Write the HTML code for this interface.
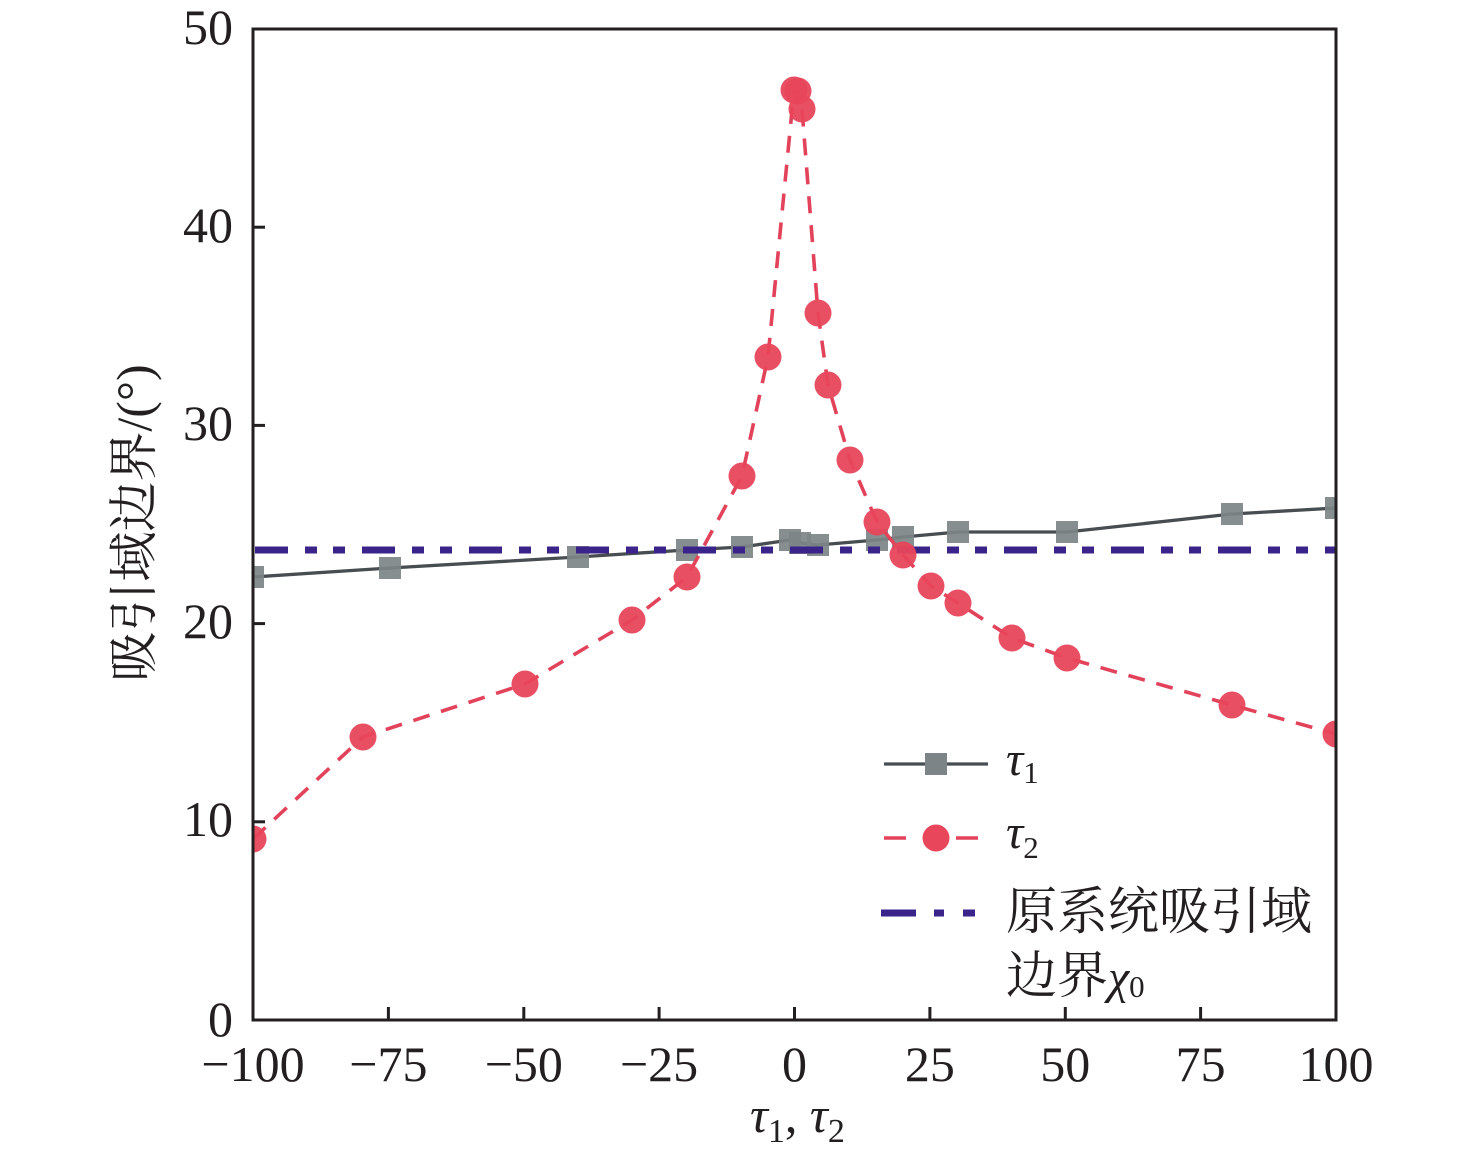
<!DOCTYPE html>
<html>
<head>
<meta charset="utf-8">
<style>
  html, body { margin:0; padding:0; background:#ffffff; }
  svg { display:block; }
  .num { font-family:"Liberation Serif", serif; font-size:50px; fill:#231f20; }
  .cjk { font-family:"Liberation Serif", "Noto Serif CJK SC", serif; fill:#231f20; }
  .it { font-family:"Liberation Serif", serif; font-style:italic; fill:#231f20; }
</style>
</head>
<body>
<svg width="1476" height="1158" viewBox="0 0 1476 1158" xmlns="http://www.w3.org/2000/svg">
  <defs>
    <clipPath id="plot">
      <rect x="253" y="29" width="1083" height="991"/>
    </clipPath>
  </defs>
  <rect x="0" y="0" width="1476" height="1158" fill="#ffffff"/>

  <g clip-path="url(#plot)">
    <!-- tau1 grey series -->
    <polyline fill="none" stroke="#474d50" stroke-width="3.3"
      points="253,577 390,568 578,557 687,550 742,547 790,540 800,543 818,545 877,540 903,537 958,532 1067,532 1232,514 1336,508"/>
    <g fill="#7d8487" fill-opacity="0.92">
      <rect x="242" y="566" width="22" height="22"/>
      <rect x="379" y="557" width="22" height="22"/>
      <rect x="567" y="546" width="22" height="22"/>
      <rect x="676" y="539" width="22" height="22"/>
      <rect x="731" y="536" width="22" height="22"/>
      <rect x="779" y="529" width="22" height="22"/>
      <rect x="789" y="532" width="22" height="22"/>
      <rect x="807" y="534" width="22" height="22"/>
      <rect x="866" y="529" width="22" height="22"/>
      <rect x="892" y="526" width="22" height="22"/>
      <rect x="947" y="521" width="22" height="22"/>
      <rect x="1056" y="521" width="22" height="22"/>
      <rect x="1221" y="503" width="22" height="22"/>
      <rect x="1325" y="497" width="22" height="22"/>
    </g>

    <!-- original boundary chi0 -->
    <line x1="253" y1="550" x2="1336" y2="550" stroke="#3a2389" stroke-width="7"
      stroke-dasharray="33 17 12 16 12 17" stroke-dashoffset="-2"/>

    <!-- tau2 red series -->
    <polyline fill="none" stroke="#e3435a" stroke-width="3.6" stroke-dasharray="17 12"
      points="253,839 363,737 525,684 632,620 687,577 742,476 768,357 794,90 798,90 802,109 818,313 828,385 850,460 877,522 903,555 931,586 958,603 1012,638 1067,658 1232,705 1336,734"/>
    <g fill="#e8465b" fill-opacity="0.95">
      <circle cx="253" cy="839" r="13.5"/>
      <circle cx="363" cy="737" r="13.5"/>
      <circle cx="525" cy="684" r="13.5"/>
      <circle cx="632" cy="620" r="13.5"/>
      <circle cx="687" cy="577" r="13.5"/>
      <circle cx="742" cy="476" r="13.5"/>
      <circle cx="768" cy="357" r="13.5"/>
      <circle cx="794" cy="90" r="13.5"/>
      <circle cx="798" cy="91" r="13.5"/>
      <circle cx="802" cy="109" r="13.5"/>
      <circle cx="818" cy="313" r="13.5"/>
      <circle cx="828" cy="385" r="13.5"/>
      <circle cx="850" cy="460" r="13.5"/>
      <circle cx="877" cy="522" r="13.5"/>
      <circle cx="903" cy="555" r="13.5"/>
      <circle cx="931" cy="586" r="13.5"/>
      <circle cx="958" cy="603" r="13.5"/>
      <circle cx="1012" cy="638" r="13.5"/>
      <circle cx="1067" cy="658" r="13.5"/>
      <circle cx="1232" cy="705" r="13.5"/>
      <circle cx="1336" cy="734" r="13.5"/>
    </g>
  </g>

  <!-- axes box -->
  <rect x="253" y="29" width="1083" height="991" fill="none" stroke="#231f20" stroke-width="3"/>

  <!-- x ticks (inward) -->
  <g stroke="#231f20" stroke-width="3">
    <line x1="388.4" y1="1020" x2="388.4" y2="1007"/>
    <line x1="523.8" y1="1020" x2="523.8" y2="1007"/>
    <line x1="659.1" y1="1020" x2="659.1" y2="1007"/>
    <line x1="794.5" y1="1020" x2="794.5" y2="1007"/>
    <line x1="929.9" y1="1020" x2="929.9" y2="1007"/>
    <line x1="1065.3" y1="1020" x2="1065.3" y2="1007"/>
    <line x1="1200.6" y1="1020" x2="1200.6" y2="1007"/>
    <!-- y ticks -->
    <line x1="253" y1="821.8" x2="265" y2="821.8"/>
    <line x1="253" y1="623.6" x2="265" y2="623.6"/>
    <line x1="253" y1="425.4" x2="265" y2="425.4"/>
    <line x1="253" y1="227.2" x2="265" y2="227.2"/>
  </g>

  <!-- y tick labels -->
  <g class="num" text-anchor="end">
    <text x="233" y="1036">0</text>
    <text x="233" y="836">10</text>
    <text x="233" y="638">20</text>
    <text x="233" y="440">30</text>
    <text x="233" y="242">40</text>
    <text x="233" y="44">50</text>
  </g>

  <!-- x tick labels -->
  <g class="num" text-anchor="middle">
    <text x="253" y="1081">−100</text>
    <text x="388.4" y="1081">−75</text>
    <text x="523.8" y="1081">−50</text>
    <text x="659.1" y="1081">−25</text>
    <text x="794.5" y="1081">0</text>
    <text x="929.9" y="1081">25</text>
    <text x="1065.3" y="1081">50</text>
    <text x="1200.6" y="1081">75</text>
    <text x="1336" y="1081">100</text>
  </g>

  <!-- x axis title -->
  <text x="750" y="1132" class="it" font-size="50">τ<tspan font-style="normal" font-size="34" dy="10">1</tspan><tspan font-style="normal" dy="-10">, </tspan>τ<tspan font-style="normal" font-size="34" dy="10">2</tspan></text>

  <!-- y axis title -->
  <text class="cjk" font-size="50" text-anchor="middle" transform="translate(151,523) rotate(-90)">吸引域边界/(°)</text>

  <!-- legend -->
  <line x1="884" y1="764" x2="988" y2="764" stroke="#474d50" stroke-width="3.3"/>
  <rect x="925" y="753" width="22" height="22" fill="#7d8487"/>
  <text x="1006" y="775" class="it" font-size="48">τ<tspan font-style="normal" font-size="31" dy="8">1</tspan></text>

  <line x1="884" y1="838" x2="906" y2="838" stroke="#e3435a" stroke-width="3.6"/>
  <line x1="956" y1="838" x2="978" y2="838" stroke="#e3435a" stroke-width="3.6"/>
  <circle cx="936" cy="838" r="13.5" fill="#e8465b"/>
  <text x="1006" y="848" class="it" font-size="48">τ<tspan font-style="normal" font-size="31" dy="10">2</tspan></text>

  <line x1="881" y1="913" x2="916" y2="913" stroke="#3a2389" stroke-width="7"/>
  <line x1="934" y1="913" x2="944" y2="913" stroke="#3a2389" stroke-width="7"/>
  <line x1="963" y1="913" x2="975" y2="913" stroke="#3a2389" stroke-width="7"/>
  <text x="1006" y="929" class="cjk" font-size="51">原系统吸引域</text>
  <text x="1006" y="993" class="cjk" font-size="51">边界<tspan class="it" font-size="48">χ</tspan><tspan font-family="Liberation Serif, serif" font-size="31" dy="4">0</tspan></text>
</svg>
</body>
</html>
